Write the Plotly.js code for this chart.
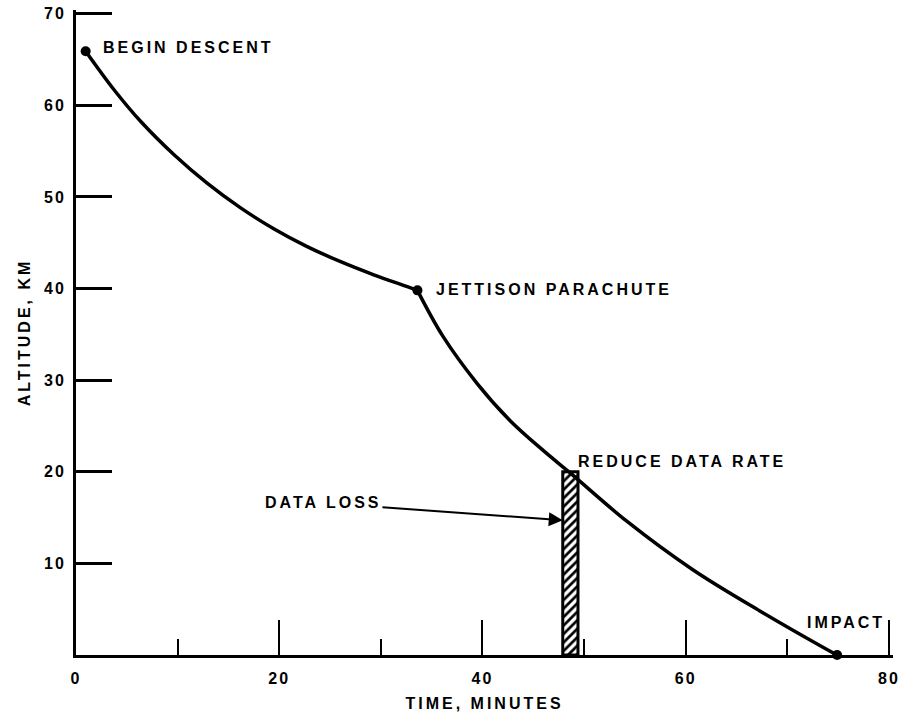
<!DOCTYPE html>
<html>
<head>
<meta charset="utf-8">
<script src="https://cdn.plot.ly/plotly-3.0.1.min.js"></script>
<style>
  html, body { margin: 0; padding: 0; background: #fff; }
  #chart { width: 904px; height: 719px; }
  text { letter-spacing: 3px; }
  .xtick text, .ytick text { letter-spacing: 2px; }
</style>
</head>
<body>
<div id="chart"></div>
<script>
// Descent before parachute jettison (time in minutes, altitude in km)
const timeParachute = [0.95, 3.74, 6.4, 9.65, 12.9, 16.2, 19.5, 22.7, 26.1, 29.3, 32.6, 33.6];
const altParachute  = [65.9, 61.7, 58.2, 54.6, 51.5, 48.8, 46.5, 44.6, 42.9, 41.5, 40.2, 39.8];
// Free-fall descent after jettison
const timeFreeFall = [33.6, 36.1, 39.5, 42.7, 46.0, 48.6, 54.2, 60.7, 67.3, 73.9, 74.9];
const altFreeFall  = [39.8, 34.8, 29.6, 25.6, 22.3, 19.9, 14.6, 9.3, 4.8, 0.6, 0];
// Event markers
const eventTimes = [0.95, 33.6, 74.9];
const eventAlts  = [65.9, 39.8, 0];
// Data loss interval
const dataLossStart = 47.9;
const dataLossEnd   = 49.4;
const dataLossTop   = 20;
// Axis ticks
const xTickVals = [0, 20, 40, 60, 80];
const xMinorTickVals = [10, 30, 50, 70];
const yTickVals = [10, 20, 30, 40, 50, 60, 70];
// Labels
const labelTexts = ['BEGIN DESCENT', 'JETTISON PARACHUTE', 'REDUCE DATA RATE', 'IMPACT'];
const labelX     = [2.5, 35.2, 49.2, 71.7];
const labelY     = [66.3, 39.9, 21.1, 3.6];

const black = '#000000';
const fontFam = 'Liberation Sans, Arial, sans-serif';

const traces = [
  {
    type: 'bar',
    x: [(dataLossStart + dataLossEnd) / 2],
    y: [dataLossTop],
    width: [dataLossEnd - dataLossStart],
    marker: {
      color: '#ffffff',
      line: { color: black, width: 3 },
      pattern: { shape: '/', fgcolor: black, bgcolor: '#ffffff', size: 6, solidity: 0.45 }
    },
    hoverinfo: 'skip',
    showlegend: false
  },
  {
    type: 'scatter', mode: 'lines',
    x: timeParachute, y: altParachute,
    line: { color: black, width: 3.5, shape: 'spline', smoothing: 1 },
    hoverinfo: 'skip', showlegend: false
  },
  {
    type: 'scatter', mode: 'lines',
    x: timeFreeFall, y: altFreeFall,
    line: { color: black, width: 3.5, shape: 'spline', smoothing: 1 },
    hoverinfo: 'skip', showlegend: false
  },
  {
    type: 'scatter', mode: 'markers',
    x: eventTimes, y: eventAlts,
    marker: { color: black, size: 10 },
    cliponaxis: false,
    hoverinfo: 'skip', showlegend: false
  }
];

const annotations = labelTexts.map((t, i) => ({
  text: t, x: labelX[i], y: labelY[i], xref: 'x', yref: 'y',
  xanchor: 'left', yanchor: 'middle', showarrow: false,
  font: { family: fontFam, size: 16, color: black, weight: 'bold' }
}));
annotations.push({
  text: 'DATA LOSS',
  x: dataLossStart, y: 14.7, xref: 'x', yref: 'y',
  ax: 24.3, ay: 16.6, axref: 'x', ayref: 'y',
  showarrow: true, arrowhead: 2, arrowsize: 1.4, arrowwidth: 2, arrowcolor: black,
  font: { family: fontFam, size: 16, color: black, weight: 'bold' }
});

const layout = {
  width: 904, height: 719,
  margin: { l: 76, r: 11, t: 10, b: 64 },
  paper_bgcolor: '#ffffff', plot_bgcolor: '#ffffff',
  showlegend: false,
  bargap: 0,
  font: { family: fontFam, color: black },
  xaxis: {
    range: [0, 80.4],
    tickmode: 'array', tickvals: xTickVals, ticktext: xTickVals.map(String),
    ticks: 'inside', ticklen: 35, tickwidth: 2, tickcolor: black,
    minor: { tickmode: 'array', tickvals: xMinorTickVals, ticks: 'inside', ticklen: 16, tickwidth: 2, tickcolor: black },
    showline: true, linewidth: 3, linecolor: black, mirror: false,
    showgrid: false, zeroline: false,
    ticklabelstandoff: 7,
    tickfont: { family: fontFam, size: 16, color: black, weight: 'bold' },
    title: { text: 'TIME, MINUTES', standoff: 12, font: { family: fontFam, size: 16, color: black, weight: 'bold' } }
  },
  yaxis: {
    range: [0, 70.4],
    tickmode: 'array', tickvals: yTickVals, ticktext: yTickVals.map(String),
    ticks: 'inside', ticklen: 36, tickwidth: 3, tickcolor: black,
    showline: true, linewidth: 3, linecolor: black, mirror: false,
    showgrid: false, zeroline: false,
    ticklabelstandoff: 4,
    tickfont: { family: fontFam, size: 16, color: black, weight: 'bold' },
    title: { text: 'ALTITUDE, KM', standoff: 10, font: { family: fontFam, size: 16, color: black, weight: 'bold' } }
  },
  annotations: annotations
};

Plotly.newPlot('chart', traces, layout, { staticPlot: true, displayModeBar: false });
</script>
</body>
</html>
